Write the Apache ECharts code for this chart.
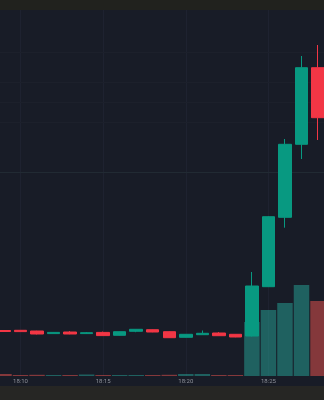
<!DOCTYPE html>
<html>
<head>
<meta charset="utf-8">
<script src="https://cdn.jsdelivr.net/npm/echarts@6/dist/echarts.min.js"></script>
<style>
html,body{margin:0;padding:0;background:#181c27;}
#chart{width:324px;height:400px;}
</style>
</head>
<body>
<div id="chart"></div>
<script>
const times = ['18:09','18:10','18:11','18:12','18:13','18:14','18:15','18:16','18:17','18:18',
               '18:19','18:20','18:21','18:22','18:23','18:24','18:25','18:26','18:27','18:28'];
const opens  = [1.0015,1.0017,1.0010,0.9984,1.0000,0.9984,0.9996,0.9967,1.0007,1.0023,
                1.0003,0.9947,0.9973,0.9990,0.9977,0.9960,1.0453,1.1147,1.1877,1.2643];
const closes = [1.0005,1.0004,0.9980,0.9996,0.9980,0.9993,0.9964,1.0003,1.0027,1.0000,
                0.9943,0.9977,0.9987,0.9963,0.9950,1.0460,1.1153,1.1877,1.2643,1.2143];
const lows   = [1.0002,1.0003,0.9976,0.9983,0.9978,0.9982,0.9962,0.9965,0.9998,0.9998,
                0.9940,0.9945,0.9972,0.9962,0.9948,0.9955,1.0450,1.1043,1.1730,1.1920];
const highs  = [1.0018,1.0018,1.0012,0.9998,1.0008,1.0000,1.0004,1.0005,1.0028,1.0025,
                1.0006,0.9979,1.0015,0.9998,0.9979,1.0600,1.1158,1.1930,1.2760,1.2870];
const volumes = [200,100,120,100,100,150,100,100,100,100,
                 120,200,200,100,100,5400,6600,7300,9100,7500];
const gridLevels = [1.276,1.255,1.234,1.213];
const timeLines = ['18:10','18:15','18:20','18:25'];
const priceLine = 1.156;

const UP = '#089981', DOWN = '#f23645';
const VUP = 'rgba(38,166,154,0.5)', VDOWN = 'rgba(239,83,80,0.5)';

const candleData = times.map((t,i)=>[opens[i],closes[i],lows[i],highs[i]]);
const volData = times.map((t,i)=>({value:volumes[i], itemStyle:{color: closes[i]>=opens[i]?VUP:VDOWN}}));

const chart = echarts.init(document.getElementById('chart'), null, {renderer:'canvas'});
chart.setOption({
  backgroundColor:'#181c27',
  animation:false,
  grid:{left:-4.3, right:-2.3, top:10, bottom:24, outerBoundsMode:'none', containLabel:false},
  xAxis:{
    type:'category', data:times, boundaryGap:true,
    axisLine:{show:false}, axisTick:{show:false},
    axisLabel:{
      interval:(idx,val)=>/[05]$/.test(val),
      color:'#8d9099', fontSize:6, margin:2, fontFamily:'Roboto'
    },
    splitLine:{show:false}
  },
  yAxis:[
    {type:'value', min:0.956, max:1.322, show:true, axisLine:{show:false}, axisTick:{show:false}, axisLabel:{show:false}, splitLine:{show:false}},
    {type:'value', min:0, max:36600, show:false}
  ],
  graphic:[
    {type:'rect', shape:{x:0,y:0,width:324,height:10}, style:{fill:'#21221e'}, z:100},
    {type:'rect', shape:{x:0,y:386,width:324,height:14}, style:{fill:'#262624'}, z:100}
  ],
  series:[
    {
      type:'line', data:[], z:0, silent:true,
      markLine:{
        symbol:'none', silent:true, label:{show:false}, animation:false, z:0,
        data:[
          ...timeLines.map(v=>({xAxis:v, lineStyle:{color:'#1e2230',width:1,type:'solid'}})),
          ...gridLevels.map(v=>({yAxis:v, lineStyle:{color:'#1c202b',width:1,type:'solid'}})),
          {yAxis:priceLine, lineStyle:{color:'#212a33',width:1,type:'solid'}}
        ]
      }
    },
    {
      type:'bar', data:volData, yAxisIndex:1, barWidth:15.5, z:8
    },
    {
      type:'candlestick', data:candleData, barWidth:13, z:10,
      itemStyle:{color:UP, color0:DOWN, borderColor:UP, borderColor0:DOWN, borderWidth:1}
    }
  ]
});
</script>
</body>
</html>
